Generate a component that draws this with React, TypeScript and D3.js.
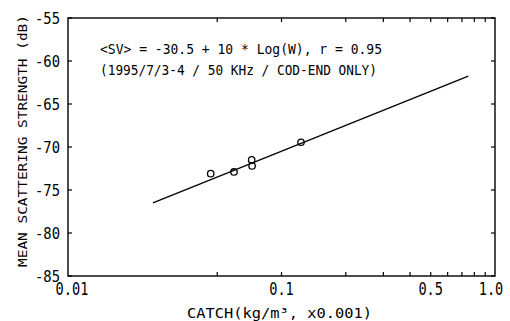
import React from 'react';
import * as d3 from 'd3';

// Catch (kg/m³ x0.001) vs mean scattering strength (dB)
const catchVals = [0.0466, 0.0599, 0.0725, 0.0728, 0.1234];
const svVals = [-73.1, -72.9, -71.5, -72.2, -69.45];

// regression line end points
const fitCatch = [0.025, 0.75];
const fitSv = [-76.5, -61.75];

const yTicks = [-55, -60, -65, -70, -75, -80, -85];
const xLabelTicks = [0.01, 0.1, 0.5, 1.0];
const xLabels = ['0.01', '0.1', '0.5', '1.0'];
const xMinorTicks = [0.05, 0.1, 0.2, 0.3, 0.4, 0.5, 0.6, 0.7, 0.8, 0.9];

const annotation = [
  '<SV> = -30.5 + 10 * Log(W), r = 0.95',
  '(1995/7/3-4 / 50 KHz / COD-END ONLY)',
];

const W = 510;
const H = 321;
const m = { left: 68, right: 495, top: 18, bottom: 276 };
const FONT = '"DejaVu Sans Mono", "Liberation Mono", monospace';
const TICK = 4;

const App = () => {
  const x = d3.scaleLog().domain([0.01, 1.0]).range([m.left, m.right]);
  const y = d3.scaleLinear().domain([-55, -85]).range([m.top, m.bottom]);

  const line = d3.line<number>()
    .x((_, i) => x(fitCatch[i]))
    .y(d => y(d));

  return (
    <svg width={W} height={H} style={{ position: 'absolute', left: 0, top: 0, background: '#fff' }}>
      {/* frame */}
      <rect x={m.left} y={m.top} width={m.right - m.left} height={m.bottom - m.top}
        fill="none" stroke="#000" strokeWidth={1.4} />

      {/* x ticks, bottom and top, pointing inward */}
      {xMinorTicks.map(t => (
        <g key={t}>
          <line x1={x(t)} x2={x(t)} y1={m.bottom} y2={m.bottom - TICK} stroke="#000" strokeWidth={1.2} />
          <line x1={x(t)} x2={x(t)} y1={m.top} y2={m.top + TICK} stroke="#000" strokeWidth={1.2} />
        </g>
      ))}

      {/* y ticks, left and right */}
      {yTicks.map(t => (
        <g key={t}>
          <line x1={m.left} x2={m.left + TICK} y1={y(t)} y2={y(t)} stroke="#000" strokeWidth={1.2} />
          <line x1={m.right} x2={m.right - TICK} y1={y(t)} y2={y(t)} stroke="#000" strokeWidth={1.2} />
          <text x={60} y={y(t) + 5.5} textAnchor="end" fontFamily={FONT} fontSize={15}
            textLength={25} lengthAdjust="spacingAndGlyphs">{String(t)}</text>
        </g>
      ))}

      {/* x tick labels */}
      {xLabelTicks.map((t, i) => (
        <text key={t} x={x(t) + (i === 0 ? 4 : i === xLabelTicks.length - 1 ? -4 : 0)} y={295}
          textAnchor="middle" fontFamily={FONT} fontSize={17}
          textLength={xLabels[i].length * 8.2} lengthAdjust="spacingAndGlyphs">{xLabels[i]}</text>
      ))}

      {/* regression line */}
      <path d={line(fitSv) || ''} fill="none" stroke="#000" strokeWidth={1.3} />

      {/* observations */}
      {catchVals.map((c, i) => (
        <circle key={i} cx={x(c)} cy={y(svVals[i])} r={3.2} fill="none" stroke="#000" strokeWidth={1.3} />
      ))}

      {/* annotation */}
      {annotation.map((s, i) => (
        <text key={i} x={100} y={54 + i * 21} fontFamily={FONT} fontSize={14}
          textLength={i === 0 ? 282 : 277} lengthAdjust="spacingAndGlyphs">{s}</text>
      ))}

      {/* axis titles */}
      <text x={279.5} y={318} textAnchor="middle" fontFamily={FONT} fontSize={14.5}
        textLength={185} lengthAdjust="spacingAndGlyphs">CATCH(kg/m³, x0.001)</text>
      <text transform="translate(27,141) rotate(-90)" textAnchor="middle" fontFamily={FONT} fontSize={13}
        textLength={252} lengthAdjust="spacingAndGlyphs">MEAN SCATTERING STRENGTH (dB)</text>
    </svg>
  );
};

export default App;
